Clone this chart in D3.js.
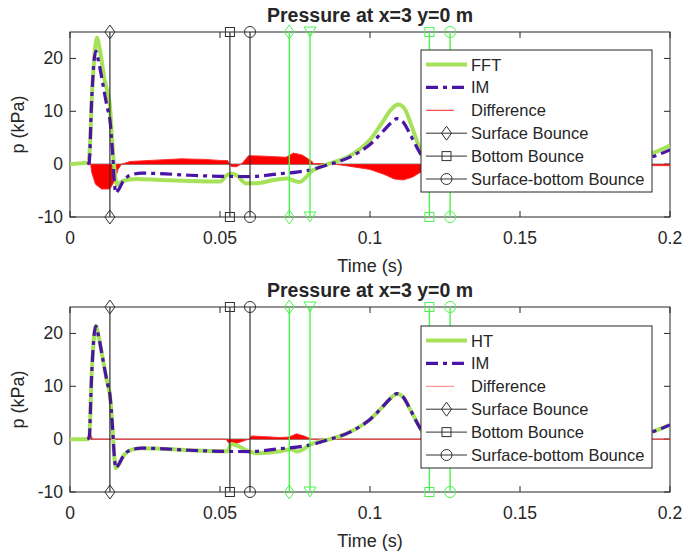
<!DOCTYPE html>
<html>
<head>
<meta charset="utf-8">
<script src="https://cdn.jsdelivr.net/npm/d3@7"></script>
<style>
  body { margin: 0; background: #fff; }
  text { font-family: "Liberation Sans", Arial, sans-serif; fill: #262626; }
</style>
</head>
<body>
<div class="container"></div>
<script>
const width = 684;
const height = 555;

// x ticks / y ticks
const xTicks = [0, 0.05, 0.1, 0.15, 0.2];
const xTickLabels = ["0", "0.05", "0.1", "0.15", "0.2"];
const yTicks = [-10, 0, 10, 20];

// FFT (top panel, green)
const fftT = [0, 0.005, 0.0062, 0.0075, 0.0085, 0.009, 0.010, 0.0115, 0.0133, 0.0140, 0.0150, 0.0156, 0.0165, 0.018, 0.022, 0.03, 0.04, 0.05, 0.0525, 0.0540, 0.0560, 0.0585, 0.062, 0.068, 0.0725, 0.0745, 0.0765, 0.0785, 0.080, 0.083, 0.087, 0.092, 0.097, 0.100, 0.104, 0.107, 0.1094, 0.1115, 0.114, 0.1167, 0.119, 0.123, 0.13, 0.15, 0.17, 0.185, 0.194, 0.2];
const fftP = [0, 0.2, 0.3, 15, 22.5, 23.9, 21.5, 16, 11, 5, -2, -3.9, -3.6, -3.1, -2.8, -3.0, -3.2, -3.3, -2.0, -1.8, -2.3, -3.6, -3.6, -3.0, -2.7, -3.1, -3.4, -2.6, -1.6, -0.6, 0.2, 1.2, 3.0, 4.6, 7.8, 10.3, 11.3, 10.5, 7.0, 2.7, -0.5, -1.5, -1.5, -0.8, -0.2, 0.6, 2.0, 3.5];

// IM (both panels, purple dash-dot)
const imT = [0.0058, 0.0064, 0.0072, 0.0086, 0.0095, 0.011, 0.0117, 0.0125, 0.0133, 0.0142, 0.0148, 0.0153, 0.016, 0.018, 0.0206, 0.024, 0.03, 0.04, 0.05, 0.06, 0.07, 0.0756, 0.08, 0.0867, 0.092, 0.097, 0.1, 0.104, 0.107, 0.109, 0.111, 0.1135, 0.1167, 0.12, 0.125, 0.14, 0.16, 0.18, 0.194, 0.2];
const imP = [0, 0.3, 12, 21.4, 19.5, 15, 12.8, 10.5, 8.4, 2, -3.5, -5.5, -5.0, -3.0, -2.0, -1.7, -1.8, -2.1, -2.3, -2.35, -1.8, -1.5, -1.1, 0, 1.0, 2.5, 3.7, 6.0, 7.8, 8.6, 8.0, 5.5, 2.1, -0.5, -1.2, -1.0, -0.4, 0.3, 1.4, 2.7];

// HT (bottom panel, green)
const htT = [0, 0.0058, 0.0064, 0.0072, 0.0086, 0.0095, 0.011, 0.0117, 0.0125, 0.0133, 0.0142, 0.0148, 0.0153, 0.016, 0.018, 0.0206, 0.024, 0.03, 0.04, 0.05, 0.0525, 0.0537, 0.0555, 0.0595, 0.0622, 0.07, 0.0735, 0.0756, 0.0775, 0.0795, 0.0867, 0.092, 0.097, 0.1, 0.104, 0.107, 0.109, 0.111, 0.1135, 0.1167, 0.12, 0.125, 0.14, 0.16, 0.18, 0.194, 0.2];
const htP = [0, 0, 0.3, 12, 21.4, 19.5, 15, 12.8, 10.5, 8.4, 2, -3.5, -5.5, -5.0, -3.0, -2.0, -1.7, -1.8, -2.1, -2.3, -2.3, -0.9, -1.2, -2.3, -2.65, -2.3, -1.9, -2.35, -2.0, -1.2, 0, 1.0, 2.5, 3.7, 6.0, 7.8, 8.6, 8.0, 5.5, 2.1, -0.5, -1.2, -1.0, -0.4, 0.3, 1.4, 2.7];

// Difference (top: FFT - IM)
const diffTopT = [0, 0.0058, 0.0062, 0.0068, 0.0072, 0.0085, 0.0105, 0.0133, 0.0150, 0.0160, 0.0172, 0.02, 0.03, 0.037, 0.045, 0.05, 0.0525, 0.0538, 0.0555, 0.0575, 0.0595, 0.065, 0.072, 0.0745, 0.0775, 0.0805, 0.0812, 0.085, 0.088, 0.092, 0.1, 0.105, 0.108, 0.111, 0.114, 0.117, 0.122, 0.15, 0.18, 0.2];
const diffTopP = [0, 0, 2.1, 0.5, -1.5, -3.8, -4.7, -4.7, -3.0, -1.0, 0, 0.5, 0.8, 1.0, 0.9, 0.7, 0.7, -0.45, -0.5, 0.2, 1.6, 1.5, 1.3, 2.1, 1.7, 0.6, 0.1, 0.1, 0, -0.3, -1.0, -2.0, -2.8, -3.0, -2.5, -1.5, -0.6, -0.3, -0.2, -0.3];

// Difference (bottom: HT - IM)
const diffBotT = [0, 0.0058, 0.0065, 0.0075, 0.052, 0.0535, 0.0585, 0.0598, 0.0605, 0.07, 0.073, 0.0755, 0.078, 0.0805, 0.2];
const diffBotP = [0, 0, 1.6, 0, 0, -1.2, -0.2, 0, 0.6, 0.3, 0.4, 1.0, 0.6, 0, 0];

// bounce arrival times
const blackBounces = [0.0133, 0.0533, 0.06];
const blackShapes = ["diamond", "square", "circle"];
const greenBounces = [0.0731, 0.08, 0.1198, 0.1267];
const greenShapes = ["diamond", "triangle", "square", "circle"];

const panels = [
    { top: 32, bottom: 217, curve: "FFT", cT: fftT, cP: fftP, dT: diffTopT, dP: diffTopP, leg: 50 },
    { top: 307, bottom: 492, curve: "HT", cT: htT, cP: htP, dT: diffBotT, dP: diffBotP, leg: 326 }
];

const left = 70, right = 670;
const green = "#a5e25a", purple = "#4a14a6", bounceGreen = "#4cf24c", axisColor = "#262626";

const svg = d3.select(".container")
    .append("svg")
    .attr("width", width)
    .attr("height", height);

const xScale = d3.scaleLinear().domain([0, 0.2]).range([left, right]);

function marker(g, shape, x, y, color) {
    if (shape == "diamond") {
        g.append("path").attr("d", `M${x},${y - 7}L${x + 5},${y}L${x},${y + 7}L${x - 5},${y}Z`)
            .attr("fill", "none").attr("stroke", color).attr("stroke-width", 1);
    } else if (shape == "square") {
        g.append("rect").attr("x", x - 4.5).attr("y", y - 4.5).attr("width", 9).attr("height", 9)
            .attr("fill", "none").attr("stroke", color).attr("stroke-width", 1);
    } else if (shape == "circle") {
        g.append("circle").attr("cx", x).attr("cy", y).attr("r", 5.5)
            .attr("fill", "none").attr("stroke", color).attr("stroke-width", 1);
    } else {
        g.append("path").attr("d", `M${x - 6},${y - 5}L${x + 6},${y - 5}L${x},${y + 5}Z`)
            .attr("fill", "none").attr("stroke", color).attr("stroke-width", 1);
    }
}

panels.forEach((p, i) => {
    const yScale = d3.scaleLinear().domain([-10, 25]).range([p.bottom, p.top]);
    const g = svg.append("g");

    const clipId = "clip" + i;
    svg.append("clipPath").attr("id", clipId)
        .append("rect").attr("x", left).attr("y", p.top).attr("width", right - left).attr("height", p.bottom - p.top);

    // axes box + ticks
    g.append("rect").attr("x", left).attr("y", p.top).attr("width", right - left).attr("height", p.bottom - p.top)
        .attr("fill", "#fff").attr("stroke", axisColor).attr("stroke-width", 1);

    xTicks.forEach((t, k) => {
        const x = xScale(t);
        g.append("line").attr("x1", x).attr("x2", x).attr("y1", p.bottom).attr("y2", p.bottom - 6).attr("stroke", axisColor);
        g.append("line").attr("x1", x).attr("x2", x).attr("y1", p.top).attr("y2", p.top + 6).attr("stroke", axisColor);
        g.append("text").attr("x", x).attr("y", p.bottom + 27).attr("text-anchor", "middle")
            .attr("font-size", 17.5).text(xTickLabels[k]);
    });
    yTicks.forEach(v => {
        const y = yScale(v);
        g.append("line").attr("x1", left).attr("x2", left + 6).attr("y1", y).attr("y2", y).attr("stroke", axisColor);
        g.append("line").attr("x1", right).attr("x2", right - 6).attr("y1", y).attr("y2", y).attr("stroke", axisColor);
        g.append("text").attr("x", left - 7).attr("y", y + 6).attr("text-anchor", "end")
            .attr("font-size", 17.5).text(v);
    });

    g.append("text").attr("x", (left + right) / 2).attr("y", p.bottom + 55).attr("text-anchor", "middle")
        .attr("font-size", 18).text("Time (s)");
    g.append("text").attr("transform", `translate(24,${(p.top + p.bottom) / 2}) rotate(-90)`)
        .attr("text-anchor", "middle").attr("font-size", 18).text("p (kPa)");
    g.append("text").attr("x", (left + right) / 2).attr("y", p.top - 10).attr("text-anchor", "middle")
        .attr("font-size", 19.5).attr("font-weight", "bold").attr("fill", "#000").text("Pressure at x=3 y=0 m");

    const plot = g.append("g").attr("clip-path", `url(#${clipId})`);

    // baseline
    plot.append("line").attr("x1", left).attr("x2", right).attr("y1", yScale(0)).attr("y2", yScale(0))
        .attr("stroke", "#555").attr("stroke-width", 1);

    const diffData = p.dT.map((t, k) => [t, p.dP[k]]);
    plot.append("path").datum(diffData)
        .attr("d", d3.area().x(d => xScale(d[0])).y0(yScale(0)).y1(d => yScale(d[1])))
        .attr("fill", "#ff0000");
    plot.append("path").datum(diffData)
        .attr("d", d3.line().x(d => xScale(d[0])).y(d => yScale(d[1])))
        .attr("fill", "none").attr("stroke", "#ff3030").attr("stroke-width", 1);

    const line = d3.line().x(d => xScale(d[0])).y(d => yScale(d[1])).curve(d3.curveMonotoneX);
    plot.append("path").datum(p.cT.map((t, k) => [t, p.cP[k]]))
        .attr("d", line).attr("fill", "none").attr("stroke", green).attr("stroke-width", 4)
        .attr("stroke-linejoin", "round");
    plot.append("path").datum(imT.map((t, k) => [t, imP[k]]))
        .attr("d", line).attr("fill", "none").attr("stroke", purple).attr("stroke-width", 3.2)
        .attr("stroke-dasharray", "12,5,4,5");

    // bounce lines
    blackBounces.forEach((t, k) => {
        const x = xScale(t);
        g.append("line").attr("x1", x).attr("x2", x).attr("y1", yScale(25)).attr("y2", yScale(-10))
            .attr("stroke", "#303030").attr("stroke-width", 1.2);
        marker(g, blackShapes[k], x, yScale(25), "#303030");
        marker(g, blackShapes[k], x, yScale(-10), "#303030");
    });
    greenBounces.forEach((t, k) => {
        const x = xScale(t);
        g.append("line").attr("x1", x).attr("x2", x).attr("y1", yScale(25)).attr("y2", yScale(-10))
            .attr("stroke", bounceGreen).attr("stroke-width", 1.4);
        marker(g, greenShapes[k], x, yScale(25), bounceGreen);
        marker(g, greenShapes[k], x, yScale(-10), bounceGreen);
    });

    // legend
    const lx = 421, lw = 231, lh = 142;
    const leg = g.append("g");
    leg.append("rect").attr("x", lx).attr("y", p.leg).attr("width", lw).attr("height", lh)
        .attr("fill", "#fff").attr("stroke", axisColor).attr("stroke-width", 1);
    const names = [p.curve, "IM", "Difference", "Surface Bounce", "Bottom Bounce", "Surface-bottom Bounce"];
    names.forEach((n, k) => {
        const y = p.leg + 14.5 + k * 22.9;
        const l = leg.append("line").attr("x1", 426).attr("x2", 467).attr("y1", y).attr("y2", y);
        if (k == 0) l.attr("stroke", green).attr("stroke-width", 4);
        else if (k == 1) l.attr("stroke", purple).attr("stroke-width", 3.2).attr("stroke-dasharray", "12,5,4,5");
        else if (k == 2) l.attr("x2", 454).attr("stroke", i == 0 ? "#ff2020" : "#ff8080").attr("stroke-width", 1);
        else {
            l.attr("stroke", "#303030").attr("stroke-width", 1);
            marker(leg, blackShapes[k - 3], 446.5, y, "#303030");
        }
        leg.append("text").attr("x", 471).attr("y", y + 6).attr("font-size", 16.5).text(n);
    });
});
</script>
</body>
</html>
